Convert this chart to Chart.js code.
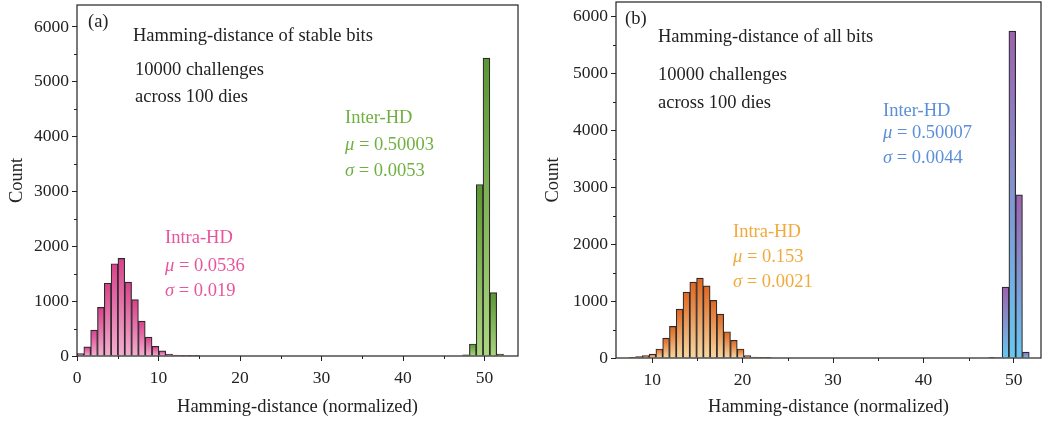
<!DOCTYPE html>
<html>
<head>
<meta charset="utf-8">
<script src="https://cdn.jsdelivr.net/npm/chart.js@4.4.1/dist/chart.umd.min.js"></script>
<style>
  html, body { margin: 0; padding: 0; background: #fff; }
  #wrap { position: relative; width: 1044px; height: 421px; }
  canvas { position: absolute; top: 0; }
  #chartA { left: 0; }
  #chartB { left: 530px; }
</style>
</head>
<body>
<div id="wrap">
  <canvas id="chartA" width="530" height="421"></canvas>
  <canvas id="chartB" width="514" height="421"></canvas>
</div>
<script>
// (a) stable bits: histogram counts, bin width in normalized-HD percent
const binWidthA = 0.837;
const intraStartA = 0;
const intraCountsA = [43, 165, 471, 887, 1327, 1682, 1780, 1346, 1028, 636, 343, 177, 92, 37, 18, 8, 4, 2];
const interStartA = 47.3;
const interCountsA = [20, 219, 3127, 5433, 1155, 36];

// (b) all bits
const binWidthB = 0.75;
const intraStartB = 7.41;
const intraCountsB = [6, 23, 41, 70, 158, 350, 555, 859, 1157, 1332, 1402, 1268, 1011, 771, 461, 310, 158, 41, 18, 12, 6];
const interStartB = 47.2;
const interCountsB = [3, 8, 1245, 5740, 2865, 105];

const yTicks = [0, 1000, 2000, 3000, 4000, 5000, 6000];
const xTicksA = [0, 10, 20, 30, 40, 50];
const xTicksB = [10, 20, 30, 40, 50];

const SERIF = '"Liberation Serif", "Times New Roman", serif';
const INK = '#222';

function toPoints(start, width, counts) {
    return counts.map((c, i) => ({ x: start + (i + 0.5) * width, y: c }));
}

// per-bar vertical gradient, dark on top, light at the base
function barGradient(top, bottom) {
    return function (ctx) {
        const chart = ctx.chart;
        if (!chart.chartArea || ctx.type !== 'data') return top;
        const ys = chart.scales.y;
        const y0 = ys.getPixelForValue(ctx.raw.y);
        let y1 = ys.getPixelForValue(0);
        if (y1 - y0 < 1) y1 = y0 + 1;
        const g = chart.ctx.createLinearGradient(0, y0, 0, y1);
        g.addColorStop(0, top);
        g.addColorStop(1, bottom);
        return g;
    };
}

const frameBox = {
    id: 'frameBox',
    afterDatasetsDraw(chart) {
        const { ctx, chartArea: a } = chart;
        ctx.save();
        ctx.strokeStyle = INK;
        ctx.lineWidth = 1.2;
        ctx.strokeRect(a.left, a.top, a.right - a.left, a.bottom - a.top);
        ctx.restore();
    }
};

const minorTicks = {
    id: 'minorTicks',
    afterDraw(chart, args, opts) {
        const { ctx, chartArea: a, scales: { x, y } } = chart;
        ctx.save();
        ctx.strokeStyle = INK;
        ctx.lineWidth = 1;
        ctx.beginPath();
        for (let v = Math.ceil(y.min / opts.y) * opts.y; v <= y.max; v += opts.y) {
            if (v % (opts.y * 2) === 0) continue;
            const py = Math.round(y.getPixelForValue(v)) + 0.5;
            ctx.moveTo(a.left, py);
            ctx.lineTo(a.left - 3, py);
        }
        for (let v = Math.ceil(x.min / opts.x) * opts.x; v <= x.max; v += opts.x) {
            if (v % (opts.x * 2) === 0) continue;
            const px = Math.round(x.getPixelForValue(v)) + 0.5;
            ctx.moveTo(px, a.bottom);
            ctx.lineTo(px, a.bottom + 3);
        }
        ctx.stroke();
        ctx.restore();
    }
};

const notes = {
    id: 'notes',
    afterDraw(chart, args, opts) {
        const ctx = chart.ctx;
        ctx.save();
        ctx.textBaseline = 'middle';
        ctx.textAlign = 'left';
        opts.items.forEach(it => {
            ctx.fillStyle = it.color || INK;
            if (it.sym) {
                ctx.font = 'italic 18.5px ' + SERIF;
                ctx.fillText(it.sym, it.x, it.y);
                const w = ctx.measureText(it.sym).width;
                ctx.font = '18.5px ' + SERIF;
                ctx.fillText(it.text, it.x + w, it.y);
            } else {
                ctx.font = '18.5px ' + SERIF;
                ctx.fillText(it.text, it.x, it.y);
            }
        });
        ctx.restore();
    }
};

function makeChart(id, p) {
    return new Chart(document.getElementById(id), {
        type: 'bar',
        data: {
            datasets: [
                {
                    label: 'Intra-HD',
                    data: toPoints(p.intraStart, p.bin, p.intraCounts),
                    backgroundColor: barGradient(p.intraColors[0], p.intraColors[1]),
                    borderColor: '#2e2a2c',
                    borderWidth: 1.2,
                    grouped: false,
                    barPercentage: 1,
                    categoryPercentage: 1
                },
                {
                    label: 'Inter-HD',
                    data: toPoints(p.interStart, p.bin, p.interCounts),
                    backgroundColor: barGradient(p.interColors[0], p.interColors[1]),
                    borderColor: '#2e2a2c',
                    borderWidth: 1.2,
                    grouped: false,
                    barPercentage: 1,
                    categoryPercentage: 1
                }
            ]
        },
        options: {
            responsive: false,
            animation: false,
            layout: { padding: p.padding },
            plugins: {
                legend: { display: false },
                tooltip: { enabled: false },
                minorTicks: { x: 5, y: 500 },
                notes: { items: p.notes }
            },
            scales: {
                x: {
                    type: 'linear',
                    offset: false,
                    min: p.xMin,
                    max: p.xMax,
                    afterFit: s => { s.height = p.xHeight; s.paddingLeft = 0; s.paddingRight = 0; },
                    afterBuildTicks: s => { s.ticks = p.xTicks.map(v => ({ value: v })); },
                    border: { display: false },
                    grid: { offset: false, drawOnChartArea: false, drawTicks: true, tickLength: 5, tickColor: INK, tickWidth: 1 },
                    ticks: { color: INK, padding: 7, maxRotation: 0, font: { family: SERIF, size: 17.5 } },
                    title: { display: true, text: 'Hamming-distance (normalized)', color: INK,
                             padding: { top: 0, bottom: 3 }, font: { family: SERIF, size: 18.5 } }
                },
                y: {
                    min: 0,
                    max: p.yMax,
                    afterFit: s => { s.width = p.yWidth; s.paddingTop = 0; s.paddingBottom = 0; },
                    afterBuildTicks: s => { s.ticks = yTicks.map(v => ({ value: v })); },
                    border: { display: false },
                    grid: { drawOnChartArea: false, drawTicks: true, tickLength: 5, tickColor: INK, tickWidth: 1 },
                    ticks: { color: INK, padding: 3, callback: v => String(v), font: { family: SERIF, size: 17.5 } },
                    title: { display: true, text: 'Count', color: INK,
                             padding: { top: p.yTitlePad, bottom: 0 }, font: { family: SERIF, size: 18.5 } }
                }
            }
        },
        plugins: [frameBox, minorTicks, notes]
    });
}

document.addEventListener('DOMContentLoaded', function () {
    makeChart('chartA', {
        bin: binWidthA,
        intraStart: intraStartA, intraCounts: intraCountsA,
        interStart: interStartA, interCounts: interCountsA,
        intraColors: ['#d8418b', '#f4aed0'],
        interColors: ['#5a9632', '#aad67e'],
        xMin: 0, xMax: 54.1, xTicks: xTicksA,
        yMax: 6400,
        padding: { left: 0, right: 12, top: 5, bottom: 0 },
        yWidth: 77, xHeight: 65, yTitlePad: 6,
        notes: [
            { text: '(a)', x: 88, y: 22 },
            { text: 'Hamming-distance of stable bits', x: 133, y: 36 },
            { text: '10000 challenges', x: 135, y: 70 },
            { text: 'across 100 dies', x: 135, y: 97 },
            { text: 'Inter-HD', x: 345, y: 118, color: '#6fb040' },
            { sym: 'μ', text: ' = 0.50003', x: 345, y: 145, color: '#6fb040' },
            { sym: 'σ', text: ' = 0.0053', x: 345, y: 171, color: '#6fb040' },
            { text: 'Intra-HD', x: 165, y: 238, color: '#e8559c' },
            { sym: 'μ', text: ' = 0.0536', x: 165, y: 266, color: '#e8559c' },
            { sym: 'σ', text: ' = 0.019', x: 165, y: 291, color: '#e8559c' }
        ]
    });

    makeChart('chartB', {
        bin: binWidthB,
        intraStart: intraStartB, intraCounts: intraCountsB,
        interStart: interStartB, interCounts: interCountsB,
        intraColors: ['#e0661e', '#f7d8a0'],
        interColors: ['#9c62b0', '#66c8f2'],
        xMin: 6, xMax: 53, xTicks: xTicksB,
        yMax: 6250,
        padding: { left: 0, right: 3, top: 2, bottom: 0 },
        yWidth: 86, xHeight: 63, yTitlePad: 12,
        notes: [
            { text: '(b)', x: 95, y: 19 },
            { text: 'Hamming-distance of all bits', x: 128, y: 37 },
            { text: '10000 challenges', x: 128, y: 75 },
            { text: 'across 100 dies', x: 128, y: 103 },
            { text: 'Inter-HD', x: 353, y: 111, color: '#5b8fd8' },
            { sym: 'μ', text: ' = 0.50007', x: 353, y: 133, color: '#5b8fd8' },
            { sym: 'σ', text: ' = 0.0044', x: 353, y: 158, color: '#5b8fd8' },
            { text: 'Intra-HD', x: 203, y: 232, color: '#f2a93b' },
            { sym: 'μ', text: ' = 0.153', x: 203, y: 257, color: '#f2a93b' },
            { sym: 'σ', text: ' = 0.0021', x: 203, y: 282, color: '#f2a93b' }
        ]
    });
});
</script>
</body>
</html>
